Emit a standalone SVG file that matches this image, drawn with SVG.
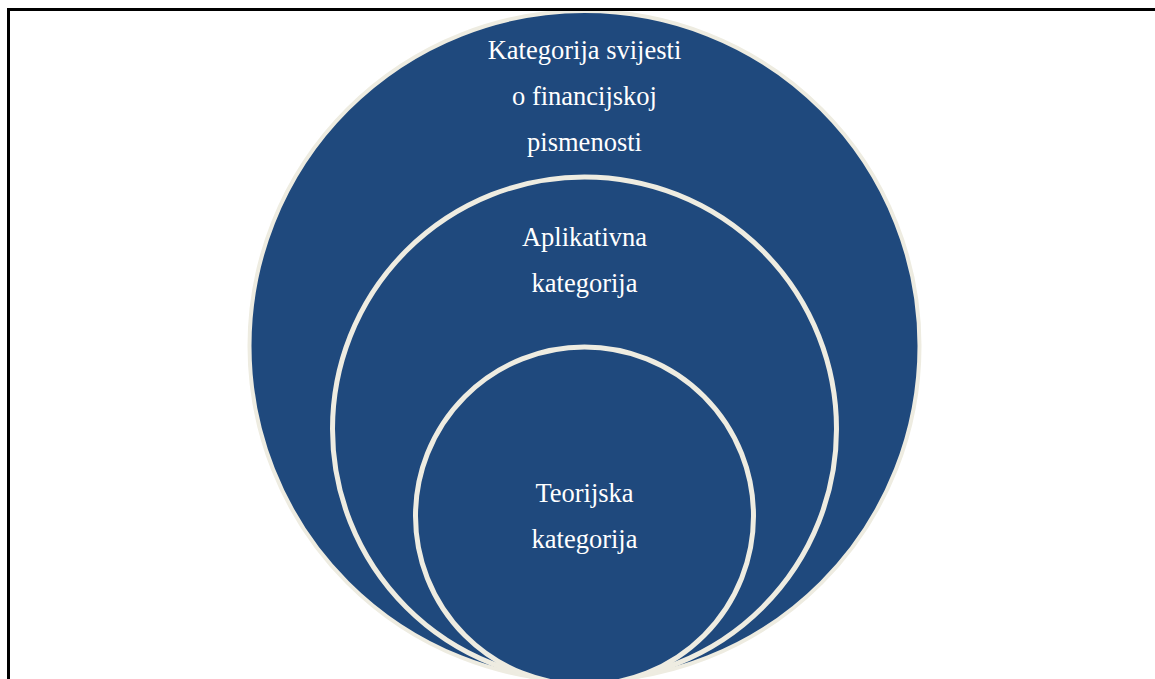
<svg xmlns="http://www.w3.org/2000/svg" width="1155" height="679" viewBox="0 0 1155 679">
<style>
.c{fill:#1F497D;stroke:#EEECE1;}
.t{font-family:"Liberation Serif","Times New Roman",serif;font-size:26.5px;fill:#FFFFFF;text-anchor:middle;}
</style>
<rect x="0" y="0" width="1155" height="679" fill="#FFFFFF"/>
<g id="outer">
<circle class="c" cx="584.5" cy="346" r="335" stroke-width="4"/>
<text class="t" x="584.5" y="59">Kategorija svijesti</text>
<text class="t" x="584.5" y="105">o financijskoj</text>
<text class="t" x="584.5" y="151">pismenosti</text>
</g>
<g id="middle">
<circle class="c" cx="584.5" cy="429" r="252" stroke-width="5"/>
<text class="t" x="584.5" y="246">Aplikativna</text>
<text class="t" x="584.5" y="292">kategorija</text>
</g>
<g id="inner">
<circle class="c" cx="584.5" cy="516" r="169" stroke-width="5"/>
<text class="t" x="584.5" y="502">Teorijska</text>
<text class="t" x="584.5" y="548">kategorija</text>
</g>
<g id="connectors"/>
<rect x="8.5" y="9.5" width="1160" height="690" fill="none" stroke="#000000" stroke-width="3"/>
</svg>
